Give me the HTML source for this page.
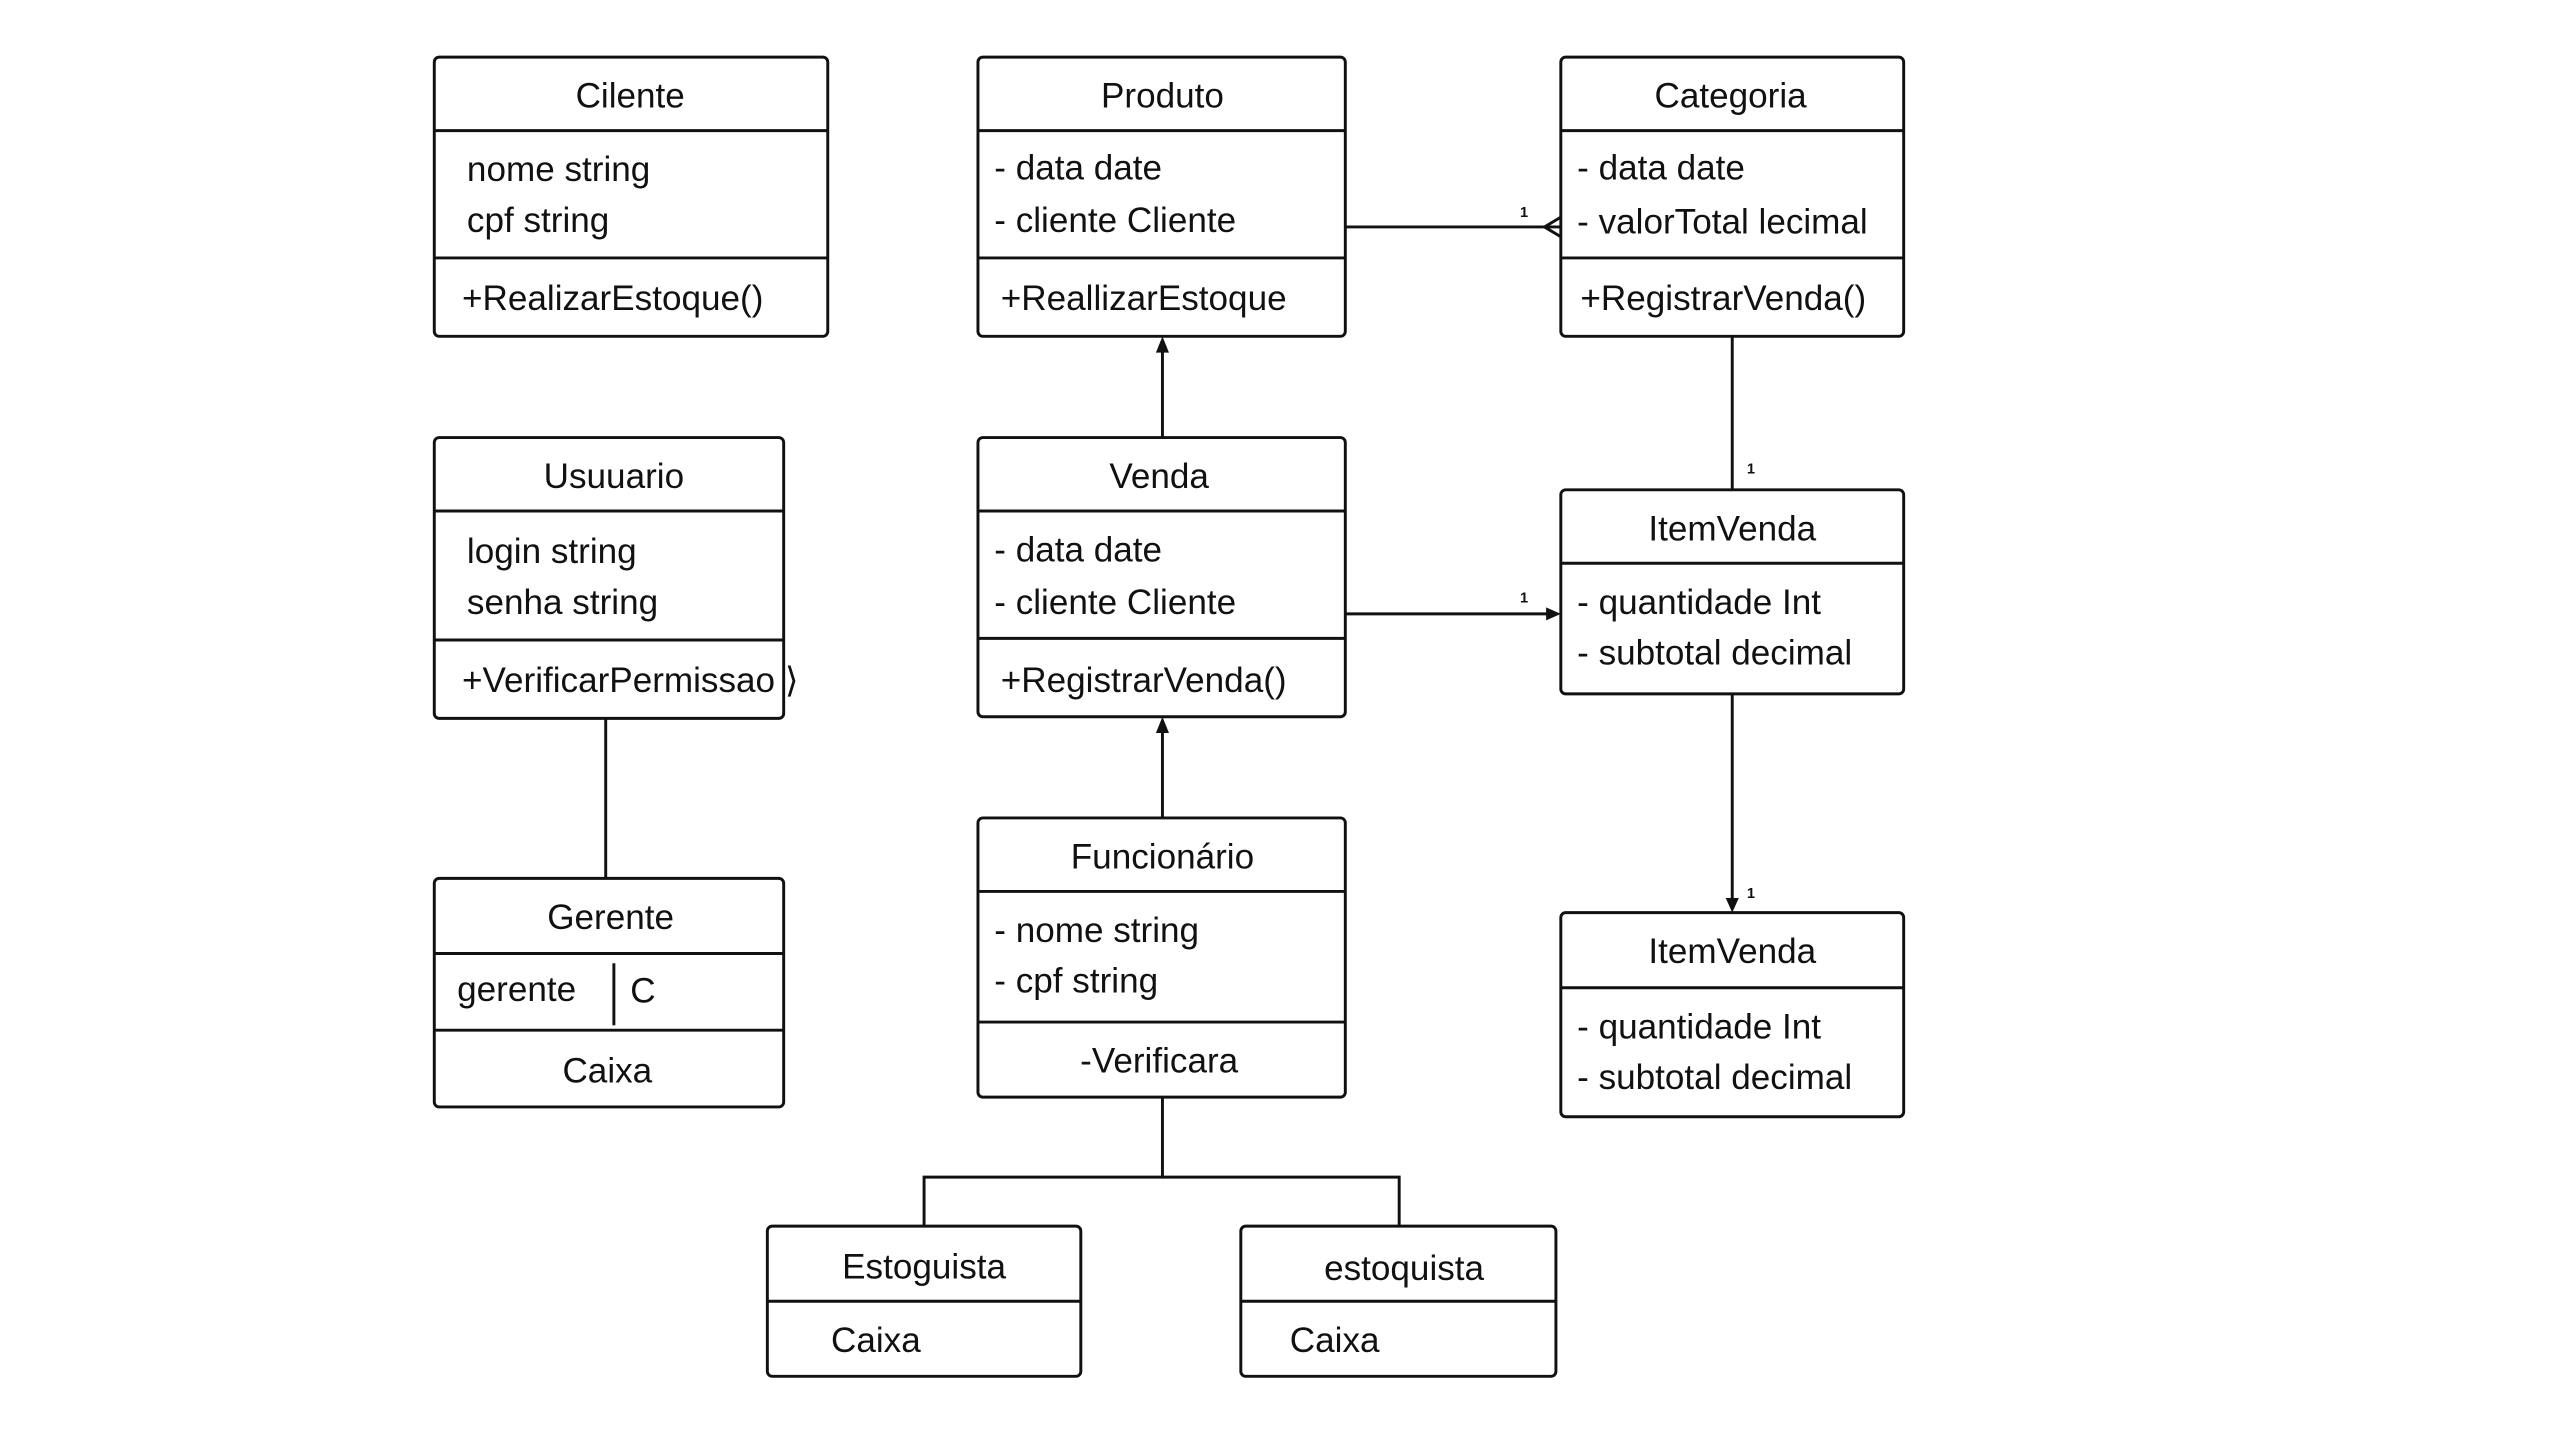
<!DOCTYPE html>
<html><head><meta charset="utf-8"><style>
html,body{margin:0;padding:0;background:#fff;}
svg{display:block;}
text{font-family:"Liberation Sans",sans-serif;font-size:21.5px;fill:#111;}
.t{text-anchor:middle;}
.s{font-size:9px;font-weight:bold;}
</style></head><body>
<svg width="2560" height="1440" viewBox="0 0 1568 882" preserveAspectRatio="none" xmlns="http://www.w3.org/2000/svg">
<g fill="none" stroke="#111" stroke-width="1.8">
<!-- Cilente -->
<rect x="266" y="35" width="241" height="171" rx="3"/><line x1="266" y1="80" x2="507" y2="80"/><line x1="266" y1="158" x2="507" y2="158"/>
<!-- Produto -->
<rect x="599" y="35" width="225" height="171" rx="3"/><line x1="599" y1="80" x2="824" y2="80"/><line x1="599" y1="158" x2="824" y2="158"/>
<!-- Categoria -->
<rect x="956" y="35" width="210" height="171" rx="3"/><line x1="956" y1="80" x2="1166" y2="80"/><line x1="956" y1="158" x2="1166" y2="158"/>
<!-- Usuario -->
<rect x="266" y="268" width="214" height="172" rx="3"/><line x1="266" y1="313" x2="480" y2="313"/><line x1="266" y1="392" x2="480" y2="392"/>
<!-- Venda -->
<rect x="599" y="268" width="225" height="171" rx="3"/><line x1="599" y1="313" x2="824" y2="313"/><line x1="599" y1="391" x2="824" y2="391"/>
<!-- ItemVenda 1 -->
<rect x="956" y="300" width="210" height="125" rx="3"/><line x1="956" y1="345" x2="1166" y2="345"/>
<!-- Gerente -->
<rect x="266" y="538" width="214" height="140" rx="3"/><line x1="266" y1="584" x2="480" y2="584"/><line x1="266" y1="631" x2="480" y2="631"/><line x1="376" y1="590" x2="376" y2="628"/>
<!-- Funcionario -->
<rect x="599" y="501" width="225" height="171" rx="3"/><line x1="599" y1="546" x2="824" y2="546"/><line x1="599" y1="626" x2="824" y2="626"/>
<!-- ItemVenda 2 -->
<rect x="956" y="559" width="210" height="125" rx="3"/><line x1="956" y1="605" x2="1166" y2="605"/>
<!-- Estoquista -->
<rect x="470" y="751" width="192" height="92" rx="3"/><line x1="470" y1="797" x2="662" y2="797"/>
<rect x="760" y="751" width="193" height="92" rx="3"/><line x1="760" y1="797" x2="953" y2="797"/>
<!-- connectors -->
<line x1="824" y1="139" x2="956" y2="139"/>
<polyline points="956,133 946,139 956,145"/>
<line x1="712" y1="268" x2="712" y2="212"/>
<line x1="1061" y1="206" x2="1061" y2="300"/>
<line x1="824" y1="376" x2="950" y2="376"/>
<line x1="1061" y1="425" x2="1061" y2="553"/>
<line x1="371" y1="440" x2="371" y2="538"/>
<line x1="712" y1="501" x2="712" y2="445"/>
<polyline points="712,672 712,721 566,721 566,751"/>
<polyline points="712,721 857,721 857,751"/>
</g>
<g fill="#111">
<polygon points="712,206 708,216 716,216"/>
<polygon points="956,376 947,372 947,380"/>
<polygon points="1061,559 1057,550 1065,550"/>
<polygon points="712,439 708,449 716,449"/>
</g>
<text class="s" x="931" y="133">1</text>
<text class="s" x="931" y="369">1</text>
<text class="s" x="1070" y="290">1</text>
<text class="s" x="1070" y="550">1</text>

<text class="t" x="386" y="66">Cilente</text>
<text x="286" y="111">nome string</text><text x="286" y="142">cpf string</text>
<text x="283" y="190">+RealizarEstoque()</text>

<text class="t" x="712" y="66">Produto</text>
<text x="609" y="110">- data date</text><text x="609" y="142">- cliente Cliente</text>
<text x="613" y="190">+ReallizarEstoque</text>

<text class="t" x="1060" y="66">Categoria</text>
<text x="966" y="110">- data date</text><text x="966" y="143">- valorTotal lecimal</text>
<text x="968" y="190">+RegistrarVenda()</text>

<text class="t" x="376" y="299">Usuuario</text>
<text x="286" y="345">login string</text><text x="286" y="376">senha string</text>
<text x="283" y="424">+VerificarPermissao ⟩</text>

<text class="t" x="710" y="299">Venda</text>
<text x="609" y="344">- data date</text><text x="609" y="376">- cliente Cliente</text>
<text x="613" y="424">+RegistrarVenda()</text>

<text class="t" x="1061" y="331">ItemVenda</text>
<text x="966" y="376">- quantidade Int</text><text x="966" y="407">- subtotal decimal</text>

<text class="t" x="374" y="569">Gerente</text>
<text x="280" y="613">gerente</text><text x="386" y="614">C</text>
<text class="t" x="372" y="663">Caixa</text>

<text class="t" x="712" y="532">Funcionário</text>
<text x="609" y="577">- nome string</text><text x="609" y="608">- cpf string</text>
<text class="t" x="710" y="657">-Verificara</text>

<text class="t" x="1061" y="590">ItemVenda</text>
<text x="966" y="636">- quantidade Int</text><text x="966" y="667">- subtotal decimal</text>

<text class="t" x="566" y="783">Estoguista</text>
<text x="509" y="828">Caixa</text>
<text class="t" x="860" y="784">estoquista</text>
<text x="790" y="828">Caixa</text>
</svg>
</body></html>
